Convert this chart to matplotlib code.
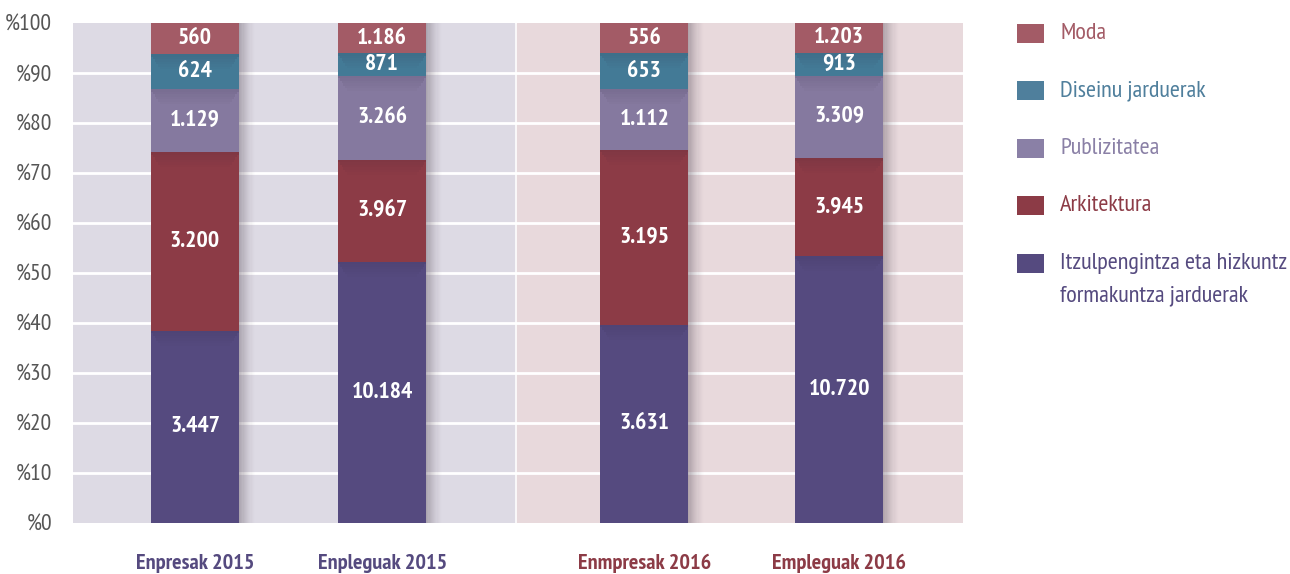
import matplotlib

matplotlib.use("Agg")
import matplotlib.pyplot as plt
import numpy as np
from matplotlib.patches import Rectangle

# data
categories = ["Enpresak 2015", "Enpleguak 2015", "Enmpresak 2016", "Empleguak 2016"]
series = [
    "Itzulpengintza eta hizkuntz\nformakuntza jarduerak",
    "Arkitektura",
    "Publizitatea",
    "Diseinu jarduerak",
    "Moda",
]
itzulpen = [3447, 10184, 3631, 10720]
arkitektura = [3200, 3967, 3195, 3945]
publizitatea = [1129, 3266, 1112, 3309]
diseinu = [624, 871, 653, 913]
moda = [560, 1186, 556, 1203]
yticks = list(range(0, 101, 10))

colors = ["#554a7f", "#8c3b46", "#85799f", "#437a96", "#a35b66"]
legend_colors = ["#554a7f", "#8c3b46", "#8a80a6", "#4f7f9c", "#a35b66"]
cat_colors = ["#554a7f", "#554a7f", "#8c3b46", "#8c3b46"]
FONT = ["PT Sans Narrow", "DejaVu Sans"]

values = np.array([itzulpen, arkitektura, publizitatea, diseinu, moda], dtype=float)
pct = values / values.sum(axis=0) * 100

fig = plt.figure(figsize=(12.9, 5.74), dpi=100)
W, H = 1290, 574
ax = fig.add_axes([73 / W, (H - 523) / H, 890 / W, 500 / H])

pos = np.array([0, 0.985, 2.365, 3.39])
width = 0.463
xmin, xmax, split = -0.642, 4.042, 1.687
ax.set_xlim(xmin, xmax)
ax.set_ylim(0, 100)

# two background panels
ax.add_patch(Rectangle((xmin, 0), split - 0.008 - xmin, 100, color="#dddae4", zorder=0))
ax.add_patch(Rectangle((split + 0.008, 0), xmax - split - 0.008, 100, color="#e8d9dc", zorder=0))
for y in yticks[1:-1]:
    ax.axhline(y, color="white", lw=2, zorder=1)

# soft shadow right of each bar
for k in range(14):
    ax.bar(pos + width / 2 + k * 0.006, 100, 0.006, align="edge",
           color="#6f6470", alpha=0.45 * (1 - k / 14) ** 1.5, lw=0, zorder=1.5)

bottom = np.zeros(len(categories))
for i, name in enumerate(series):
    ax.bar(pos, pct[i], width, bottom=bottom, color=colors[i], lw=0, zorder=2)
    # faint dark band at the top of each segment below the first-drawn ones
    if i < len(series) - 1:
        for k in range(6):
            ax.bar(pos, 0.5, width * (1 - 0.04 * k), bottom=bottom + pct[i] - 0.5 * (k + 1),
                   color="#2a2035", alpha=0.12 * (1 - k / 6), lw=0, zorder=2.1)
    for j in range(len(categories)):
        txt = f"{int(values[i, j]):,}".replace(",", ".")
        ax.text(pos[j], bottom[j] + pct[i, j] / 2, txt, ha="center", va="center",
                color="white", fontsize=17, fontweight="bold", family=FONT, zorder=3)
    bottom += pct[i]

for s in ax.spines.values():
    s.set_visible(False)
ax.set_yticks(yticks)
ax.set_yticklabels([f"%{v}" for v in yticks], family=FONT, fontsize=17, color="#555555")
ax.tick_params(axis="y", length=0, pad=15)
ax.set_xticks(pos)
ax.set_xticklabels(categories, family=FONT, fontsize=16, fontweight="bold")
for lbl, c in zip(ax.get_xticklabels(), cat_colors):
    lbl.set_color(c)
ax.tick_params(axis="x", length=0, pad=22)

# legend, top entry first
leg_order = list(range(len(series)))[::-1]
for k, i in enumerate(leg_order):
    yc = 33 + k * 57.5
    fig.add_artist(Rectangle((1017 / W, 1 - (yc + 9.5) / H), 27 / W, 19 / H,
                             transform=fig.transFigure, color=legend_colors[i], lw=0))
    fig.text(1060 / W, 1 - (yc - 10) / H, series[i], ha="left", va="top",
             color=legend_colors[i], fontsize=17.5, family=FONT, linespacing=1.7)

fig.savefig("out.png", dpi=100)
